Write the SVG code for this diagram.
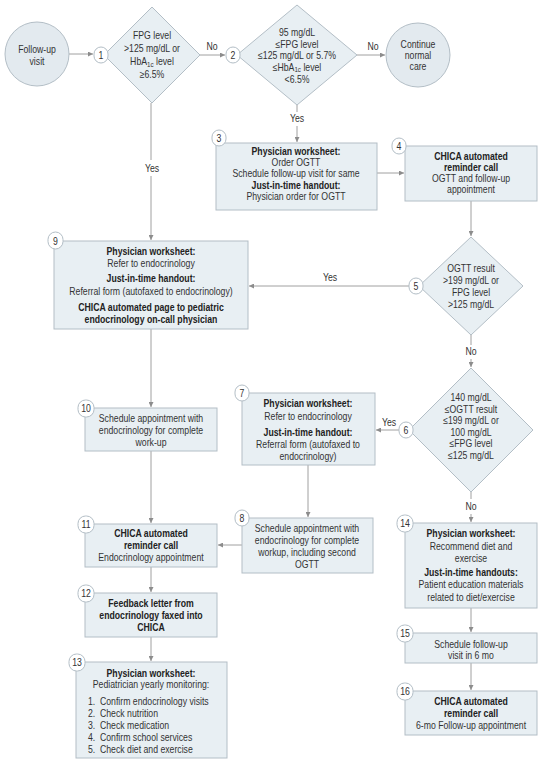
<svg xmlns="http://www.w3.org/2000/svg" width="541" height="763" viewBox="0 0 541 763">
<style>
.bg{fill:#ffffff}
.box{fill:#e8eff3;stroke:#b3bec6;stroke-width:1}
.circ{fill:#e3eaef;stroke:#b3bec6;stroke-width:1}
.bd{fill:#ffffff;stroke:#b3bec6;stroke-width:1}
.t{font-family:"Liberation Sans",Arial,sans-serif;font-size:10.5px;fill:#333;text-anchor:middle}
.b{font-weight:bold;fill:#222}
.l{text-anchor:start}
.sub{font-size:7.5px}
.con{stroke:#a0a0a0;stroke-width:1;fill:none}
</style>
<defs>
<marker id="ah" viewBox="0 0 8 8" refX="8" refY="4" markerWidth="5" markerHeight="5" markerUnits="userSpaceOnUse" orient="auto">
<path d="M0,0 L8,4 L0,8 z" fill="#8c8c8c"/>
</marker>
</defs>
<rect class="bg" x="0" y="0" width="541" height="763"/>

<g id="connectors">
<line class="con" x1="69" y1="54" x2="93" y2="54" marker-end="url(#ah)"/>
<line class="con" x1="200" y1="55" x2="225" y2="55" marker-end="url(#ah)"/>
<text class="t" transform="translate(212,50) scale(0.83,1)">No</text>
<line class="con" x1="357" y1="55" x2="385" y2="55" marker-end="url(#ah)"/>
<text class="t" transform="translate(373,50) scale(0.83,1)">No</text>
<line class="con" x1="297" y1="105" x2="297" y2="112"/>
<text class="t" transform="translate(297,122) scale(0.83,1)">Yes</text>
<line class="con" x1="297" y1="126" x2="297" y2="142" marker-end="url(#ah)"/>
<line class="con" x1="151" y1="103" x2="151" y2="160"/>
<text class="t" transform="translate(152,172) scale(0.83,1)">Yes</text>
<line class="con" x1="151" y1="176" x2="151" y2="240" marker-end="url(#ah)"/>
<line class="con" x1="377" y1="173" x2="404" y2="173" marker-end="url(#ah)"/>
<line class="con" x1="471" y1="201" x2="471" y2="236" marker-end="url(#ah)"/>
<line class="con" x1="409" y1="286" x2="249" y2="286" marker-end="url(#ah)"/>
<text class="t" transform="translate(330,281) scale(0.83,1)">Yes</text>
<line class="con" x1="471" y1="335" x2="471" y2="345"/>
<text class="t" transform="translate(471,355) scale(0.83,1)">No</text>
<line class="con" x1="471" y1="359" x2="471" y2="367" marker-end="url(#ah)"/>
<line class="con" x1="399" y1="430" x2="376" y2="430" marker-end="url(#ah)"/>
<text class="t" transform="translate(389,426) scale(0.83,1)">Yes</text>
<line class="con" x1="308" y1="465" x2="308" y2="517" marker-end="url(#ah)"/>
<line class="con" x1="242" y1="545" x2="218" y2="545" marker-end="url(#ah)"/>
<line class="con" x1="151" y1="329" x2="151" y2="407" marker-end="url(#ah)"/>
<line class="con" x1="151" y1="451" x2="151" y2="523" marker-end="url(#ah)"/>
<line class="con" x1="151" y1="567" x2="151" y2="592" marker-end="url(#ah)"/>
<line class="con" x1="151" y1="637" x2="151" y2="661" marker-end="url(#ah)"/>
<line class="con" x1="471" y1="492" x2="471" y2="499"/>
<text class="t" transform="translate(471,510) scale(0.83,1)">No</text>
<line class="con" x1="471" y1="514" x2="471" y2="522" marker-end="url(#ah)"/>
<line class="con" x1="471" y1="608" x2="471" y2="632" marker-end="url(#ah)"/>
<line class="con" x1="471" y1="663" x2="471" y2="690" marker-end="url(#ah)"/>
</g>

<g id="start">
<circle class="circ" cx="37" cy="54" r="32"/>
<text class="t" transform="translate(37,53) scale(0.83,1)">Follow-up</text>
<text class="t" transform="translate(37,65) scale(0.83,1)">visit</text>
</g>

<g id="n1">
<polygon class="box" points="152,7 200,55 152,103 104,55"/>
<rect class="bd" x="94" y="47" width="14" height="16" rx="7"/>
<text class="t" transform="translate(101,59) scale(0.83,1)">1</text>
<text class="t" transform="translate(152,39) scale(0.83,1)">FPG level</text>
<text class="t" transform="translate(152,52) scale(0.83,1)">&gt;125 mg/dL or</text>
<text class="t" transform="translate(152,65) scale(0.83,1)">HbA<tspan class="sub" dy="2">1c</tspan><tspan dy="-2"> level</tspan></text>
<text class="t" transform="translate(152,78) scale(0.83,1)">≥6.5%</text>
</g>

<g id="n2">
<polygon class="box" points="297,5 357,55 297,105 237,55"/>
<rect class="bd" x="226" y="47" width="14" height="16" rx="7"/>
<text class="t" transform="translate(233,59) scale(0.83,1)">2</text>
<text class="t" transform="translate(297,36) scale(0.83,1)">95 mg/dL</text>
<text class="t" transform="translate(297,47.5) scale(0.83,1)">≤FPG level</text>
<text class="t" transform="translate(297,59) scale(0.83,1)">≤125 mg/dL or 5.7%</text>
<text class="t" transform="translate(297,70.5) scale(0.83,1)">≤HbA<tspan class="sub" dy="1.5">1c</tspan><tspan dy="-1.5"> level</tspan></text>
<text class="t" transform="translate(297,82.5) scale(0.83,1)">&lt;6.5%</text>
</g>

<g id="end">
<circle class="circ" cx="418" cy="55" r="32"/>
<text class="t" transform="translate(418,48) scale(0.83,1)">Continue</text>
<text class="t" transform="translate(418,59) scale(0.83,1)">normal</text>
<text class="t" transform="translate(418,70) scale(0.83,1)">care</text>
</g>

<g id="n3">
<rect class="box" x="216" y="143" width="161" height="67"/>
<rect class="bd" x="212" y="130" width="14" height="16" rx="7"/>
<text class="t" transform="translate(219,142) scale(0.83,1)">3</text>
<text class="t b" transform="translate(296,155) scale(0.83,1)">Physician  worksheet:</text>
<text class="t" transform="translate(296,166) scale(0.83,1)">Order OGTT</text>
<text class="t" transform="translate(296,177) scale(0.83,1)">Schedule follow-up visit for same</text>
<text class="t b" transform="translate(296,189) scale(0.83,1)">Just-in-time handout:</text>
<text class="t" transform="translate(296,200) scale(0.83,1)">Physician order for OGTT</text>
</g>

<g id="n4">
<rect class="box" x="405" y="146" width="132" height="55"/>
<rect class="bd" x="392" y="138" width="14" height="16" rx="7"/>
<text class="t" transform="translate(399,150) scale(0.83,1)">4</text>
<text class="t b" transform="translate(471,160) scale(0.83,1)">CHICA automated</text>
<text class="t b" transform="translate(471,171) scale(0.83,1)">reminder call</text>
<text class="t" transform="translate(471,182) scale(0.83,1)">OGTT and follow-up</text>
<text class="t" transform="translate(471,193) scale(0.83,1)">appointment</text>
</g>

<g id="n5">
<polygon class="box" points="471,237 523,286 471,335 419,286"/>
<rect class="bd" x="409" y="278" width="14" height="16" rx="7"/>
<text class="t" transform="translate(416,290) scale(0.83,1)">5</text>
<text class="t" transform="translate(471,272) scale(0.83,1)">OGTT result</text>
<text class="t" transform="translate(471,284) scale(0.83,1)">&gt;199 mg/dL or</text>
<text class="t" transform="translate(471,296) scale(0.83,1)">FPG level</text>
<text class="t" transform="translate(471,308) scale(0.83,1)">&gt;125 mg/dL</text>
</g>

<g id="n9">
<rect class="box" x="54" y="241" width="194" height="88"/>
<rect class="bd" x="48" y="232" width="15" height="17" rx="7.5"/>
<text class="t" transform="translate(55.5,244.5) scale(0.83,1)">9</text>
<text class="t b" transform="translate(151,255) scale(0.83,1)">Physician worksheet:</text>
<text class="t" transform="translate(151,267) scale(0.83,1)">Refer to endocrinology</text>
<text class="t b" transform="translate(151,282) scale(0.83,1)">Just-in-time handout:</text>
<text class="t" transform="translate(151,295) scale(0.83,1)">Referral form (autofaxed to endocrinology)</text>
<text class="t b" transform="translate(151,311) scale(0.83,1)">CHICA automated page to pediatric</text>
<text class="t b" transform="translate(151,323) scale(0.83,1)">endocrinology on-call physician</text>
</g>

<g id="n6">
<polygon class="box" points="471,368 533,430 471,492 409,430"/>
<rect class="bd" x="399" y="422" width="14" height="16" rx="7"/>
<text class="t" transform="translate(406,434) scale(0.83,1)">6</text>
<text class="t" transform="translate(471,401) scale(0.83,1)">140 mg/dL</text>
<text class="t" transform="translate(471,413) scale(0.83,1)">≤OGTT result</text>
<text class="t" transform="translate(471,424) scale(0.83,1)">≤199 mg/dL or</text>
<text class="t" transform="translate(471,436) scale(0.83,1)">100 mg/dL</text>
<text class="t" transform="translate(471,447) scale(0.83,1)">≤FPG level</text>
<text class="t" transform="translate(471,459) scale(0.83,1)">≤125 mg/dL</text>
</g>

<g id="n7">
<rect class="box" x="242" y="393" width="133" height="72"/>
<rect class="bd" x="235" y="385" width="14" height="16" rx="7"/>
<text class="t" transform="translate(242,397) scale(0.83,1)">7</text>
<text class="t b" transform="translate(308,407) scale(0.83,1)">Physician worksheet:</text>
<text class="t" transform="translate(308,420) scale(0.83,1)">Refer to endocrinology</text>
<text class="t b" transform="translate(308,436) scale(0.83,1)">Just-in-time handout:</text>
<text class="t" transform="translate(308,448) scale(0.83,1)">Referral form (autofaxed to</text>
<text class="t" transform="translate(308,460) scale(0.83,1)">endocrinology)</text>
</g>

<g id="n10">
<rect class="box" x="85" y="408" width="132" height="43"/>
<rect class="bd" x="78" y="400" width="16" height="17" rx="7.5"/>
<text class="t" transform="translate(86,412) scale(0.83,1)">10</text>
<text class="t" transform="translate(151,422) scale(0.83,1)">Schedule appointment with</text>
<text class="t" transform="translate(151,434) scale(0.83,1)">endocrinology for complete</text>
<text class="t" transform="translate(151,446) scale(0.83,1)">work-up</text>
</g>

<g id="n8">
<rect class="box" x="242" y="518" width="131" height="55"/>
<rect class="bd" x="235" y="510" width="14" height="16" rx="7"/>
<text class="t" transform="translate(242,522) scale(0.83,1)">8</text>
<text class="t" transform="translate(307,532) scale(0.83,1)">Schedule appointment with</text>
<text class="t" transform="translate(307,544) scale(0.83,1)">endocrinology for complete</text>
<text class="t" transform="translate(307,556) scale(0.83,1)">workup, including second</text>
<text class="t" transform="translate(307,568) scale(0.83,1)">OGTT</text>
</g>

<g id="n11">
<rect class="box" x="85" y="524" width="132" height="43"/>
<rect class="bd" x="78" y="516" width="16" height="17" rx="7.5"/>
<text class="t" transform="translate(86,528) scale(0.83,1)">11</text>
<text class="t b" transform="translate(151,537) scale(0.83,1)">CHICA automated</text>
<text class="t b" transform="translate(151,549) scale(0.83,1)">reminder call</text>
<text class="t" transform="translate(151,561) scale(0.83,1)">Endocrinology appointment</text>
</g>

<g id="n12">
<rect class="box" x="85" y="593" width="132" height="44"/>
<rect class="bd" x="78" y="585" width="16" height="17" rx="7.5"/>
<text class="t" transform="translate(86,597) scale(0.83,1)">12</text>
<text class="t b" transform="translate(151,607) scale(0.83,1)">Feedback letter from</text>
<text class="t b" transform="translate(151,619) scale(0.83,1)">endocrinology faxed into</text>
<text class="t b" transform="translate(151,631) scale(0.83,1)">CHICA</text>
</g>

<g id="n13">
<rect class="box" x="76" y="662" width="151" height="96"/>
<rect class="bd" x="69" y="654" width="16" height="17" rx="7.5"/>
<text class="t" transform="translate(77,666) scale(0.83,1)">13</text>
<text class="t b" transform="translate(151,677) scale(0.83,1)">Physician worksheet:</text>
<text class="t" transform="translate(151,688) scale(0.83,1)">Pediatrician yearly monitoring:</text>
<text class="t l" transform="translate(88,705) scale(0.83,1)">1.</text><text class="t l" transform="translate(100,705) scale(0.83,1)">Confirm endocrinology visits</text>
<text class="t l" transform="translate(88,717) scale(0.83,1)">2.</text><text class="t l" transform="translate(100,717) scale(0.83,1)">Check nutrition</text>
<text class="t l" transform="translate(88,729) scale(0.83,1)">3.</text><text class="t l" transform="translate(100,729) scale(0.83,1)">Check medication</text>
<text class="t l" transform="translate(88,741) scale(0.83,1)">4.</text><text class="t l" transform="translate(100,741) scale(0.83,1)">Confirm school services</text>
<text class="t l" transform="translate(88,753) scale(0.83,1)">5.</text><text class="t l" transform="translate(100,753) scale(0.83,1)">Check diet and exercise</text>
</g>

<g id="n14">
<rect class="box" x="405" y="523" width="132" height="85"/>
<rect class="bd" x="397" y="515" width="16" height="17" rx="7.5"/>
<text class="t" transform="translate(405,527) scale(0.83,1)">14</text>
<text class="t b" transform="translate(471,537) scale(0.83,1)">Physician worksheet:</text>
<text class="t" transform="translate(471,550) scale(0.83,1)">Recommend diet and</text>
<text class="t" transform="translate(471,562) scale(0.83,1)">exercise</text>
<text class="t b" transform="translate(471,576) scale(0.83,1)">Just-in-time handouts:</text>
<text class="t" transform="translate(471,588) scale(0.83,1)">Patient education materials</text>
<text class="t" transform="translate(471,601) scale(0.83,1)">related to diet/exercise</text>
</g>

<g id="n15">
<rect class="box" x="405" y="633" width="132" height="30"/>
<rect class="bd" x="397" y="625" width="16" height="17" rx="7.5"/>
<text class="t" transform="translate(405,637) scale(0.83,1)">15</text>
<text class="t" transform="translate(471,648) scale(0.83,1)">Schedule follow-up</text>
<text class="t" transform="translate(471,659) scale(0.83,1)">visit in 6 mo</text>
</g>

<g id="n16">
<rect class="box" x="405" y="691" width="132" height="44"/>
<rect class="bd" x="397" y="683" width="16" height="17" rx="7.5"/>
<text class="t" transform="translate(405,695) scale(0.83,1)">16</text>
<text class="t b" transform="translate(471,705) scale(0.83,1)">CHICA automated</text>
<text class="t b" transform="translate(471,717) scale(0.83,1)">reminder call</text>
<text class="t" transform="translate(471,729) scale(0.83,1)">6-mo Follow-up appointment</text>
</g>
</svg>
